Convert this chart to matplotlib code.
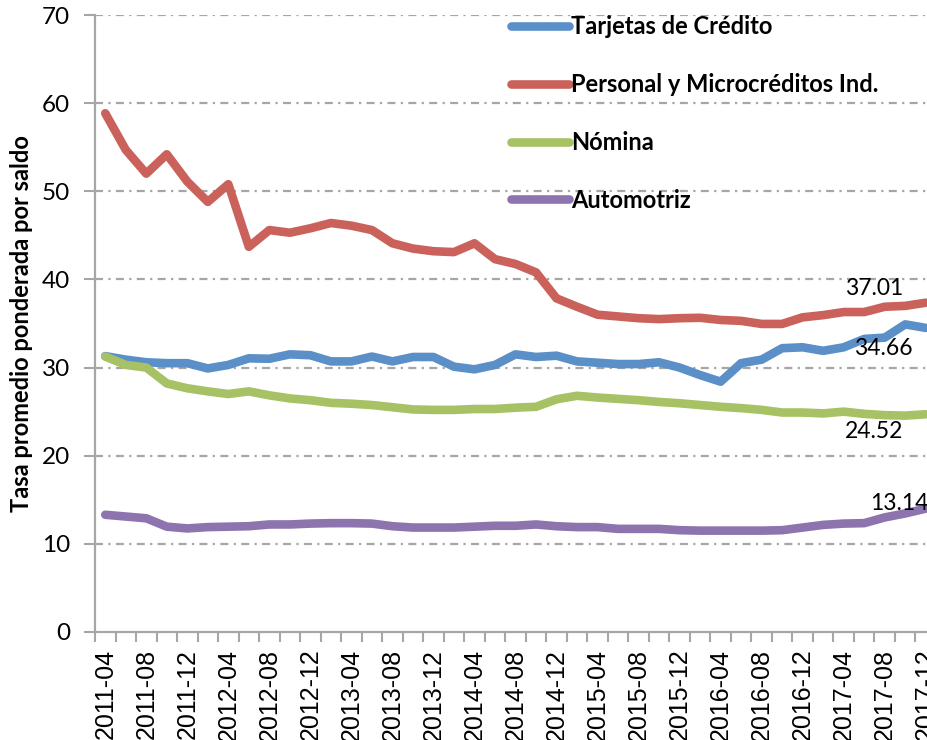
import matplotlib
matplotlib.use("Agg")
import matplotlib.pyplot as plt
import numpy as np

periods = [f"{y}-{m:02d}" for y in range(2011, 2018) for m in (2, 4, 6, 8, 10, 12)]
periods = periods[periods.index("2011-04"):periods.index("2017-12") + 1]

tarjetas = [31.3, 30.9, 30.6, 30.5, 30.5, 29.9, 30.3, 31.05, 31.0, 31.5,
            31.4, 30.7, 30.7, 31.25, 30.7, 31.2, 31.2, 30.1, 29.8, 30.3,
            31.5, 31.2, 31.35, 30.7, 30.55, 30.4, 30.4, 30.6, 30.0, 29.15,
            28.4, 30.5, 30.9, 32.2, 32.3, 31.9, 32.3, 33.25, 33.4, 34.9, 34.5]
personal = [58.85, 54.7, 52.0, 54.2, 51.1, 48.8, 50.8, 43.7, 45.6, 45.3,
            45.8, 46.4, 46.1, 45.6, 44.1, 43.5, 43.2, 43.1, 44.1, 42.3,
            41.75, 40.8, 37.85, 36.9, 36.0, 35.8, 35.6, 35.5, 35.6, 35.65,
            35.4, 35.3, 34.95, 34.95, 35.7, 35.95, 36.3, 36.3, 36.9, 37.0, 37.36]
nomina = [31.25, 30.3, 30.0, 28.2, 27.65, 27.3, 27.0, 27.3, 26.85, 26.5,
          26.3, 26.0, 25.9, 25.75, 25.5, 25.25, 25.2, 25.2, 25.3, 25.3,
          25.45, 25.55, 26.4, 26.8, 26.6, 26.45, 26.3, 26.1, 25.95, 25.75,
          25.55, 25.4, 25.2, 24.9, 24.9, 24.8, 25.0, 24.75, 24.6, 24.55, 24.7]
automotriz = [13.3, 13.1, 12.9, 11.95, 11.75, 11.9, 11.95, 12.0, 12.2, 12.2,
              12.3, 12.35, 12.35, 12.3, 12.0, 11.85, 11.85, 11.85, 11.95, 12.05,
              12.05, 12.2, 12.0, 11.9, 11.9, 11.7, 11.7, 11.7, 11.55, 11.5,
              11.5, 11.5, 11.5, 11.55, 11.85, 12.15, 12.3, 12.35, 13.0, 13.45, 14.0]

series_names = ["Tarjetas de Crédito", "Personal y Microcréditos Ind.", "Nómina", "Automotriz"]
series_vals = [tarjetas, personal, nomina, automotriz]
colors = ["#5A8FC8", "#CA625B", "#A6C264", "#8D74AF"]

end_labels = ["34.66", "37.01", "24.52", "13.14"]
label_pos = [(37.95, 32.2), (37.5, 39.0), (37.5, 22.7), (38.7, 14.6)]

grid_color = "#A6A6A6"

fig = plt.figure(figsize=(9.28, 7.40), dpi=100)
ax = fig.add_axes([95 / 928, 1 - 632 / 740, (936 - 95) / 928, (632 - 15) / 740])

x = np.arange(len(periods))
for name, vals, c in zip(series_names, series_vals, colors):
    ax.plot(x, vals, color=c, lw=6.2, solid_capstyle="round", solid_joinstyle="round",
            label=name, zorder=3)

for txt, (lx, ly) in zip(end_labels, label_pos):
    ax.text(lx, ly, txt, ha="center", va="center", fontsize=16.5, family="Lato",
            color="black", zorder=4)

ax.set_xlim(-0.5, len(periods) - 0.5)
ax.set_ylim(0, 70)
ax.set_yticks(np.arange(0, 71, 10))
for yv in range(10, 71, 10):
    ax.axhline(yv, color=grid_color, lw=1.6, linestyle=(0, (3.6, 2.4, 1.0, 2.4)), zorder=1)

ax.set_xticks(x[::2])
ax.set_xticklabels(periods[::2], rotation=90, fontsize=18, family="Liberation Sans")
ax.set_xticks(np.arange(-0.5, len(periods), 1), minor=True)
ax.tick_params(axis="x", which="major", length=0, pad=12)
ax.tick_params(axis="x", which="minor", length=7, width=1.5, color=grid_color, direction="out")
ax.tick_params(axis="y", length=8, width=1.5, color=grid_color, direction="out", pad=10)
for lab in ax.get_yticklabels():
    lab.set_fontsize(17.5)
    lab.set_family("Lato")

for s in ["top", "right"]:
    ax.spines[s].set_visible(False)
for s in ["left", "bottom"]:
    ax.spines[s].set_color(grid_color)
    ax.spines[s].set_linewidth(1.6)

ax.set_ylabel("Tasa promedio ponderada por saldo", fontsize=17, fontweight="bold",
              family="Lato")
ax.yaxis.set_label_coords(-0.0737, 0.5)

leg = ax.legend(loc="upper left", bbox_to_anchor=((502 - 95) / 841, 1 - (6 - 15) / 617),
                frameon=False, prop={"family": "Lato", "weight": "bold", "size": 17},
                handlelength=2.45, handletextpad=0.08, labelspacing=1.47, borderaxespad=0)

fig.savefig("out.png", dpi=100)
